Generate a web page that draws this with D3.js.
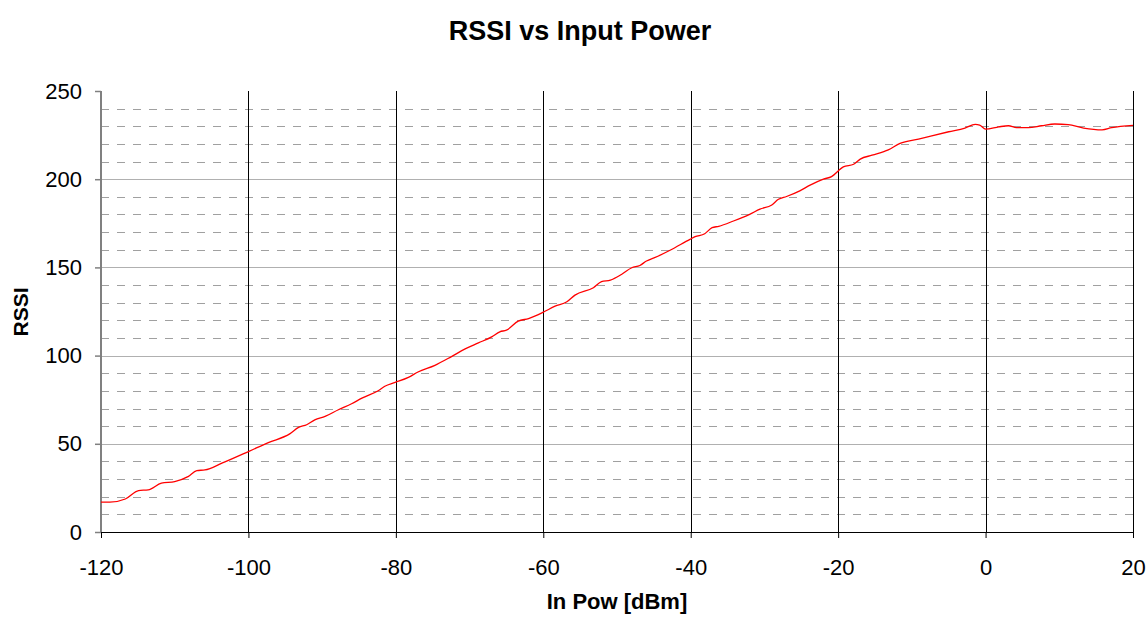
<!DOCTYPE html>
<html>
<head>
<meta charset="utf-8">
<script src="https://cdn.jsdelivr.net/npm/d3@7"></script>
<style>
  body { margin: 0; background: #fff; }
  text { font-family: "Liberation Sans", Arial, sans-serif; }
</style>
</head>
<body>
<svg id="chart"></svg>
<script>
// Data (input power in dBm, RSSI)
var powerIn = [-120, -118.8, -116.7, -114.9, -113.6, -111.8, -110, -108.2, -107, -105.9, -103.6,
  -100, -97.3, -94.4, -93.2, -92.1, -91, -89.6, -87.8, -86, -84.6, -82.4, -81.5, -80.1,
  -78.3, -77, -74.7, -72.4, -70.6, -68.8, -67, -65.9, -65, -63.4, -62, -60, -58.4, -56.8,
  -55.7, -53.2, -52.1, -50.9, -49.4, -48, -46.9, -46, -44.9, -42.8, -40.1, -39.4, -38.1,
  -37.1, -36.2, -34.2, -32, -30.6, -29, -28.1, -27, -25.2, -23.8, -22, -20.9, -19.3,
  -17.9, -17, -15.4, -13.2, -11.6, -9.1, -7.3, -5, -2.8, -1.4, -0.8, 0, 1.8, 3.1, 4.2,
  5.8, 7.6, 9.4, 11.2, 13.3, 15.8, 17.1, 20];
var rssi = [16.9, 16.9, 18.7, 23.5, 23.9, 27.7, 28.6, 31.4, 34.8, 35.2, 39,
  45.6, 50.7, 55.6, 59.3, 60.8, 63.6, 65.5, 69.3, 72.7, 75.9, 80.1, 82.6, 84.8,
  87.7, 90.7, 94.5, 99.6, 103.8, 107.2, 110.6, 113.5, 114.4, 119.5, 121, 124.6, 128, 130.5,
  134.3, 138.5, 141.9, 142.8, 146, 149.8, 151.1, 153.6, 155.5, 159.7, 165.9, 167.4, 169.1,
  172.5, 173.3, 176.3, 180.1, 183, 185.4, 188.6, 190.2, 193.4, 196.6, 200, 201.5, 207,
  208.5, 211.4, 213.6, 216.6, 220.3, 222.7, 224.6, 226.9, 229, 231.1, 230.7, 228.4, 229.7, 230.3, 229.2,
  229.2, 230.3, 231.3, 230.9, 229, 228, 229.2, 230.5];

var xTicks = [-120, -100, -80, -60, -40, -20, 0, 20];
var yTicks = [0, 50, 100, 150, 200, 250];
var yMinor = [10, 20, 30, 40, 60, 70, 80, 90, 110, 120, 130, 140, 160, 170, 180, 190, 210, 220, 230, 240];

var W = 1146, H = 617;
var margin = {top: 91, right: 13, bottom: 85, left: 101},
    width = W - margin.left - margin.right,
    height = H - margin.top - margin.bottom;

var svg = d3.select("#chart")
    .attr("width", W)
    .attr("height", H);

var g = svg.append("g")
    .attr("transform", "translate(" + margin.left + "," + margin.top + ")");

var x = d3.scaleLinear().domain([-120, 20]).range([0, width]);
var y = d3.scaleLinear().domain([0, 250]).range([height, 0]);

// Minor dashed grid
g.selectAll(".minor")
    .data(yMinor)
  .enter().append("line")
    .attr("x1", 0).attr("x2", width)
    .attr("y1", function(d) { return Math.round(y(d)) + 0.5; })
    .attr("y2", function(d) { return Math.round(y(d)) + 0.5; })
    .attr("stroke", "#a0a0a0")
    .attr("stroke-dasharray", "8,8");

// Major horizontal grid
g.selectAll(".major")
    .data(yTicks.filter(function(d) { return d > 0 && d < 250; }))
  .enter().append("line")
    .attr("x1", 0).attr("x2", width)
    .attr("y1", function(d) { return Math.round(y(d)) + 0.5; })
    .attr("y2", function(d) { return Math.round(y(d)) + 0.5; })
    .attr("stroke", "#b0b0b0");

// Vertical grid
g.selectAll(".vgrid")
    .data(xTicks.slice(1))
  .enter().append("line")
    .attr("x1", function(d) { return Math.round(x(d)) + 0.5; })
    .attr("x2", function(d) { return Math.round(x(d)) + 0.5; })
    .attr("y1", 0).attr("y2", height)
    .attr("stroke", "#000");

// Axes
var x_axis = d3.axisBottom(x).tickValues(xTicks).tickSize(6).tickPadding(21)
    .tickFormat(function(d) { return d < 0 ? "-" + Math.abs(d) : d; });
var y_axis = d3.axisLeft(y).tickValues(yTicks).tickSize(6).tickPadding(13);

var gy = g.append("g")
    .attr("class", "y axis")
    .call(y_axis);
gy.select(".domain").remove();
gy.selectAll("line").attr("stroke", "#808080").attr("stroke-width", 1.5);
g.append("line")
    .attr("x1", 0).attr("x2", 0).attr("y1", 0).attr("y2", height)
    .attr("stroke", "#808080").attr("stroke-width", 2);

var gx = g.append("g")
    .attr("class", "x axis")
    .attr("transform", "translate(0," + height + ")")
    .call(x_axis);
gx.select(".domain").attr("d", "M0,0.5H" + width).attr("stroke", "#000");
gx.selectAll("line").attr("stroke", "#000");

svg.selectAll(".axis text")
    .attr("font-size", 22)
    .attr("fill", "#000");

// Line
var valueline = d3.line()
    .x(function(d) { return x(d[0]); })
    .y(function(d) { return y(d[1]); })
    .curve(d3.curveMonotoneX);

g.append("path")
    .datum(d3.zip(powerIn, rssi))
    .attr("fill", "none")
    .attr("stroke", "#ff0000")
    .attr("stroke-width", 1.3)
    .attr("d", valueline);

// Titles
svg.append("text")
    .attr("x", 580).attr("y", 40)
    .attr("text-anchor", "middle")
    .attr("font-size", 27).attr("font-weight", "bold")
    .text("RSSI vs Input Power");

svg.append("text")
    .attr("x", 617).attr("y", 609)
    .attr("text-anchor", "middle")
    .attr("font-size", 22).attr("font-weight", "bold")
    .text("In Pow [dBm]");

svg.append("text")
    .attr("transform", "translate(28,312) rotate(-90)")
    .attr("text-anchor", "middle")
    .attr("font-size", 21).attr("font-weight", "bold")
    .text("RSSI");
</script>
</body>
</html>
